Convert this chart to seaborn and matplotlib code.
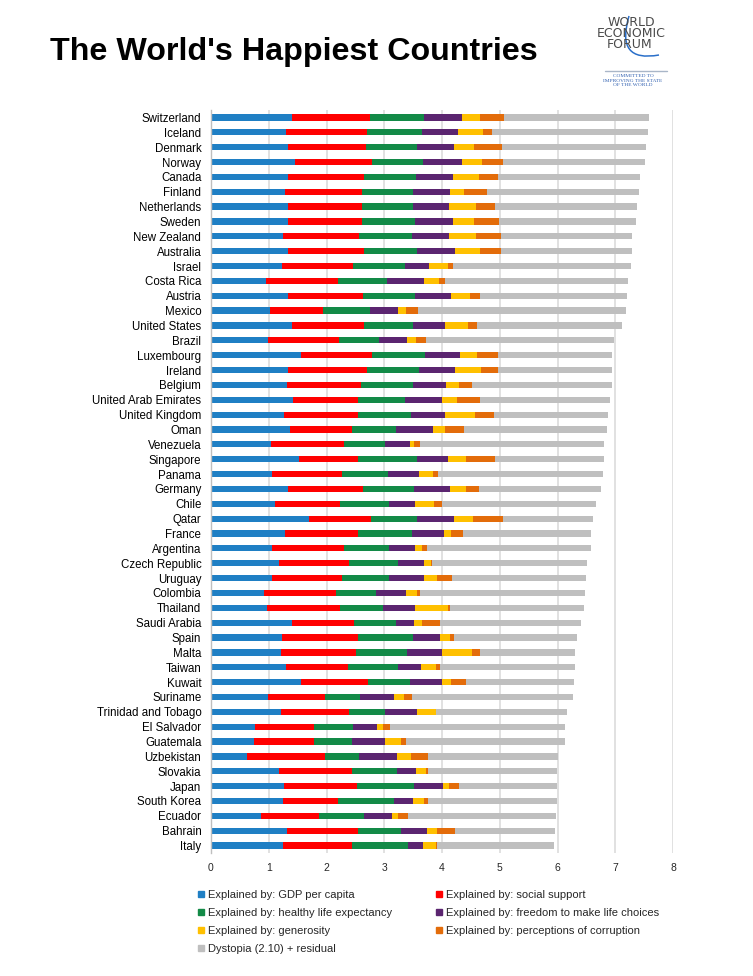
import numpy as np
import pandas as pd
import matplotlib
matplotlib.use('Agg')
import matplotlib.pyplot as plt
import seaborn as sns
from matplotlib.lines import Line2D
from matplotlib.path import Path
from matplotlib.patches import PathPatch

countries = ['Switzerland', 'Iceland', 'Denmark', 'Norway', 'Canada', 'Finland', 'Netherlands',
             'Sweden', 'New Zealand', 'Australia', 'Israel', 'Costa Rica', 'Austria', 'Mexico',
             'United States', 'Brazil', 'Luxembourg', 'Ireland', 'Belgium', 'United Arab Emirates',
             'United Kingdom', 'Oman', 'Venezuela', 'Singapore', 'Panama', 'Germany', 'Chile',
             'Qatar', 'France', 'Argentina', 'Czech Republic', 'Uruguay', 'Colombia', 'Thailand',
             'Saudi Arabia', 'Spain', 'Malta', 'Taiwan', 'Kuwait', 'Suriname',
             'Trinidad and Tobago', 'El Salvador', 'Guatemala', 'Uzbekistan', 'Slovakia', 'Japan',
             'South Korea', 'Ecuador', 'Bahrain', 'Italy']

gdp = [1.397, 1.302, 1.325, 1.459, 1.326, 1.290, 1.329, 1.332, 1.250, 1.334,
       1.229, 0.956, 1.337, 1.021, 1.395, 0.981, 1.564, 1.336, 1.308, 1.427,
       1.266, 1.360, 1.044, 1.522, 1.064, 1.328, 1.107, 1.690, 1.278, 1.054,
       1.179, 1.062, 0.919, 0.967, 1.395, 1.230, 1.207, 1.291, 1.554, 0.995,
       1.212, 0.765, 0.746, 0.632, 1.169, 1.271, 1.245, 0.864, 1.324, 1.251]
social = [1.350, 1.402, 1.361, 1.331, 1.323, 1.318, 1.280, 1.289, 1.320, 1.309,
          1.224, 1.238, 1.297, 0.915, 1.247, 1.233, 1.220, 1.369, 1.286, 1.126,
          1.285, 1.082, 1.256, 1.020, 1.199, 1.299, 1.124, 1.079, 1.260, 1.248,
          1.206, 1.209, 1.240, 1.265, 1.084, 1.314, 1.302, 1.076, 1.166, 0.972,
          1.184, 1.025, 1.044, 1.340, 1.270, 1.257, 0.958, 0.999, 1.216, 1.198]
health = [0.941, 0.948, 0.875, 0.885, 0.906, 0.889, 0.893, 0.911, 0.908, 0.932,
          0.914, 0.860, 0.890, 0.814, 0.862, 0.697, 0.919, 0.895, 0.897, 0.809,
          0.909, 0.763, 0.721, 1.025, 0.797, 0.892, 0.859, 0.797, 0.946, 0.787,
          0.845, 0.812, 0.691, 0.739, 0.720, 0.956, 0.887, 0.875, 0.725, 0.608,
          0.615, 0.677, 0.644, 0.598, 0.789, 0.991, 0.965, 0.791, 0.747, 0.954]
freedom = [0.666, 0.629, 0.649, 0.670, 0.633, 0.642, 0.616, 0.660, 0.639, 0.651,
           0.413, 0.634, 0.624, 0.482, 0.546, 0.490, 0.616, 0.618, 0.585, 0.642,
           0.596, 0.633, 0.429, 0.543, 0.542, 0.615, 0.441, 0.640, 0.550, 0.450,
           0.464, 0.604, 0.535, 0.557, 0.310, 0.460, 0.604, 0.397, 0.555, 0.597,
           0.559, 0.404, 0.577, 0.658, 0.318, 0.496, 0.332, 0.486, 0.455, 0.262]
generosity = [0.297, 0.436, 0.341, 0.347, 0.458, 0.234, 0.476, 0.363, 0.475, 0.436,
              0.332, 0.255, 0.331, 0.141, 0.401, 0.146, 0.280, 0.459, 0.223, 0.264,
              0.519, 0.215, 0.058, 0.311, 0.244, 0.282, 0.334, 0.326, 0.123, 0.115,
              0.107, 0.233, 0.184, 0.576, 0.137, 0.182, 0.518, 0.254, 0.162, 0.170,
              0.318, 0.107, 0.275, 0.228, 0.169, 0.107, 0.186, 0.098, 0.174, 0.228]
corruption = [0.420, 0.141, 0.484, 0.365, 0.330, 0.414, 0.318, 0.438, 0.429, 0.356,
              0.078, 0.106, 0.187, 0.213, 0.159, 0.175, 0.378, 0.287, 0.225, 0.386,
              0.321, 0.325, 0.111, 0.492, 0.093, 0.218, 0.129, 0.522, 0.206, 0.085,
              0.027, 0.246, 0.051, 0.032, 0.325, 0.064, 0.136, 0.081, 0.256, 0.136,
              0.011, 0.118, 0.095, 0.308, 0.034, 0.181, 0.079, 0.180, 0.306, 0.029]
dystopia = [2.517, 2.702, 2.492, 2.465, 2.452, 2.620, 2.466, 2.371, 2.264, 2.266,
            3.089, 3.177, 2.533, 3.602, 2.510, 3.260, 1.970, 1.976, 2.415, 2.247,
            1.970, 2.475, 3.191, 1.885, 2.848, 2.116, 2.676, 1.557, 2.211, 2.836,
            2.678, 2.321, 2.857, 2.319, 2.439, 2.124, 1.649, 2.323, 1.876, 2.791,
            2.269, 3.035, 2.743, 2.237, 2.246, 1.684, 2.220, 2.557, 1.738, 2.025]

labels = ['Explained by: GDP per capita', 'Explained by: social support',
          'Explained by: healthy life expectancy', 'Explained by: freedom to make life choices',
          'Explained by: generosity', 'Explained by: perceptions of corruption',
          'Dystopia (2.10) + residual']
colors = ['#1f7fc4', '#ff0000', '#138a47', '#5b2570', '#ffc000', '#e36c0a', '#bfbfbf']

df = pd.DataFrame({'country': countries, 'gdp': gdp, 'social': social, 'health': health,
                   'freedom': freedom, 'generosity': generosity, 'corruption': corruption,
                   'dystopia': dystopia})
parts = ['gdp', 'social', 'health', 'freedom', 'generosity', 'corruption', 'dystopia']
cum = df[parts].cumsum(axis=1)

sns.set_style('white')
plt.rcParams['font.family'] = ['Liberation Sans', 'DejaVu Sans']

fig = plt.figure(figsize=(7.53, 9.76), dpi=100)
ax = fig.add_axes([211 / 753, 1 - 853 / 976, 462 / 753, 743 / 976])

# stacked look: draw cumulative bars from the longest down
for i in range(len(parts) - 1, -1, -1):
    sns.barplot(x=cum[parts[i]], y=df['country'], orient='h', color=colors[i],
                saturation=1, width=0.42, linewidth=0, ax=ax, zorder=2)

ax.set_xlim(0, 8)
ax.set_ylim(len(countries) - 0.5, -0.5)
ax.set_xticks(range(9))
ax.set_xlabel('')
ax.set_ylabel('')
ax.xaxis.grid(True, color='#d9d9d9', linewidth=1.1, zorder=0)
ax.yaxis.grid(False)
ax.set_axisbelow(True)
for s in ['top', 'right', 'bottom']:
    ax.spines[s].set_visible(False)
ax.spines['left'].set_color('#bfbfbf')
ax.spines['left'].set_linewidth(1)
ax.tick_params(axis='y', length=0, labelsize=8.3, pad=7, colors='black')
ax.set_yticks(np.arange(-0.5, len(countries), 1), minor=True)
ax.tick_params(axis='y', which='minor', length=3, color='#bfbfbf', width=0.8)
ax.tick_params(axis='x', length=0, labelsize=7.5, pad=7)

fig.text(50 / 753, 1 - 52 / 976, "The World's Happiest Countries", fontsize=23.2,
         fontweight='bold', va='center', ha='left', color='black')

# legend, two columns
def handle(c):
    return Line2D([], [], marker='s', linestyle='none', markersize=4.3,
                  markerfacecolor=c, markeredgecolor=c)

col1 = [0, 2, 4, 6]
col2 = [1, 3, 5]
for idx, xpos in [(col1, 198), (col2, 436)]:
    leg = fig.legend([handle(colors[k]) for k in idx], [labels[k] for k in idx],
                     loc='upper left', bbox_to_anchor=(xpos / 753, 1 - 890 / 976),
                     frameon=False, fontsize=8, handlelength=0.6, handletextpad=0.3,
                     labelspacing=0.72, borderpad=0, borderaxespad=0)

# logo
lg = fig.add_axes([585 / 753, 1 - 95 / 976, 95 / 753, 90 / 976])
lg.set_xlim(0, 95)
lg.set_ylim(90, 0)
lg.axis('off')
grey = '#4a4a4a'
for yy, xx, t in [(17, 46.5, 'WORLD'), (28.5, 46, 'ECONOMIC'), (40, 45, 'FORUM')]:
    lg.text(xx, yy, t, ha='center', va='center', fontsize=9, color=grey,
            family='DejaVu Sans')
arc = Path([(44, 11), (30, 58), (74, 50)], [Path.MOVETO, Path.CURVE3, Path.CURVE3])
lg.add_patch(PathPatch(arc, facecolor='none', edgecolor='#2a6fc9', linewidth=1.1))
lg.plot([20, 82], [66, 66], color='#a9b6c8', linewidth=1)
blue = '#2f5fb0'
for yy, t in [(71, 'COMMITTED TO'), (75.7, 'IMPROVING THE STATE'), (80.4, 'OF THE WORLD')]:
    lg.text(48, yy, t, ha='center', va='center', fontsize=3.9, color=blue,
            family='Liberation Serif')

fig.savefig('out.png', dpi=100)
